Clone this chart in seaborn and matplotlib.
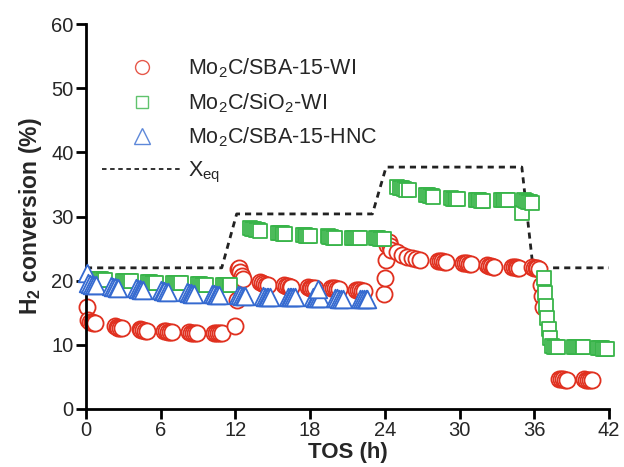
import matplotlib
matplotlib.use("Agg")
import matplotlib.pyplot as plt
from matplotlib.lines import Line2D
import seaborn as sns
import pandas as pd

# ---------------- data ----------------
# Mo2C/SBA-15-WI (red circles)
tos_wi = [0.05,
          0.15, 0.30, 0.45, 0.60, 0.75,
          2.30, 2.45, 2.60, 2.75, 2.90,
          4.30, 4.45, 4.60, 4.75, 4.90,
          6.30, 6.45, 6.60, 6.75, 6.90,
          8.30, 8.45, 8.60, 8.75, 8.90,
          10.30, 10.45, 10.60, 10.75, 10.90,
          12.00,
          12.10, 12.20, 12.30, 12.40, 12.50, 12.60,
          14.00, 14.15, 14.30, 14.45, 14.60,
          15.90, 16.05, 16.20, 16.35, 16.50,
          17.80, 17.95, 18.10, 18.25, 18.40,
          19.70, 19.85, 20.00, 20.15, 20.30,
          21.70, 21.85, 22.00, 22.15, 22.30,
          23.90, 24.00, 24.10,
          24.20, 24.30, 24.40, 24.50,
          25.00, 25.40, 25.80, 26.20, 26.50, 26.80,
          28.30, 28.45, 28.60, 28.75, 28.90,
          30.30, 30.45, 30.60, 30.75, 30.90,
          32.20, 32.35, 32.50, 32.65, 32.80,
          34.20, 34.35, 34.50, 34.65, 34.80,
          35.80, 35.95, 36.10, 36.25, 36.40,
          36.50, 36.60, 36.70,
          38.00, 38.15, 38.30, 38.45, 38.60,
          40.00, 40.15, 40.30, 40.45, 40.60]
conv_wi = [15.9,
           13.8, 13.6, 13.5, 13.4, 13.4,
           12.9, 12.8, 12.7, 12.7, 12.6,
           12.4, 12.3, 12.3, 12.2, 12.2,
           12.1, 12.1, 12.0, 12.0, 12.0,
           12.0, 11.9, 11.9, 11.9, 11.9,
           11.9, 11.8, 11.8, 11.8, 11.8,
           13.0,
           17.0, 21.8, 22.0, 21.4, 20.8, 20.3,
           19.8, 19.6, 19.5, 19.4, 19.3,
           19.3, 19.2, 19.1, 19.0, 19.0,
           19.0, 18.9, 18.9, 18.8, 18.8,
           18.9, 18.8, 18.8, 18.7, 18.7,
           18.6, 18.5, 18.5, 18.4, 18.4,
           18.0, 20.4, 23.2,
           25.5, 26.0, 25.4, 24.8,
           24.4, 24.0, 23.7, 23.5, 23.3, 23.2,
           23.1, 23.0, 23.0, 22.9, 22.9,
           22.8, 22.7, 22.7, 22.6, 22.6,
           22.4, 22.3, 22.3, 22.2, 22.2,
           22.2, 22.1, 22.1, 22.0, 22.0,
           22.1, 22.0, 22.0, 21.9, 21.8,
           19.3, 17.6, 15.9,
           4.7, 4.6, 4.6, 4.5, 4.5,
           4.6, 4.5, 4.5, 4.5, 4.5]

# Mo2C/SiO2-WI (green squares)
tos_si = [0.90, 1.05, 1.20, 1.35, 1.50,
          3.00, 3.15, 3.30, 3.45, 3.60,
          5.00, 5.15, 5.30, 5.45, 5.60,
          7.00, 7.15, 7.30, 7.45, 7.60,
          9.00, 9.15, 9.30, 9.45, 9.60,
          11.00, 11.15, 11.30, 11.45, 11.60,
          13.20, 13.35, 13.50, 13.65, 13.80, 14.00,
          15.40, 15.55, 15.70, 15.85, 16.00,
          17.40, 17.55, 17.70, 17.85, 18.00,
          19.40, 19.55, 19.70, 19.85, 20.00,
          21.40, 21.55, 21.70, 21.85, 22.00,
          23.30, 23.45, 23.60, 23.75, 23.90,
          25.00, 25.20, 25.40, 25.55, 25.70, 25.90,
          27.30, 27.45, 27.60, 27.75, 27.90,
          29.30, 29.45, 29.60, 29.75, 29.90,
          31.30, 31.45, 31.60, 31.75, 31.90,
          33.30, 33.45, 33.60, 33.75, 33.90,
          35.00,
          35.20, 35.35, 35.50, 35.65, 35.80,
          36.80, 36.90, 36.95, 37.05, 37.15, 37.25, 37.45,
          37.60, 37.75, 37.90,
          39.20, 39.35, 39.50, 39.65, 39.80, 39.90,
          41.10, 41.25, 41.40, 41.55, 41.70, 41.80]
conv_si = [20.3, 20.2, 20.2, 20.1, 20.1,
           20.0, 20.0, 19.9, 19.9, 19.9,
           19.8, 19.8, 19.7, 19.7, 19.7,
           19.7, 19.6, 19.6, 19.6, 19.6,
           19.5, 19.5, 19.4, 19.4, 19.4,
           19.4, 19.4, 19.3, 19.3, 19.3,
           28.2, 28.1, 28.0, 27.9, 27.9, 27.8,
           27.5, 27.4, 27.4, 27.3, 27.3,
           27.1, 27.1, 27.0, 27.0, 27.0,
           26.9, 26.8, 26.8, 26.7, 26.7,
           26.7, 26.7, 26.6, 26.6, 26.6,
           26.6, 26.6, 26.5, 26.5, 26.5,
           34.6, 34.5, 34.4, 34.3, 34.2, 34.1,
           33.4, 33.3, 33.2, 33.2, 33.1,
           32.9, 32.8, 32.8, 32.7, 32.7,
           32.6, 32.5, 32.5, 32.4, 32.4,
           32.6, 32.6, 32.5, 32.5, 32.5,
           30.5,
           32.5, 32.4, 32.3, 32.2, 32.1,
           20.4, 18.1, 16.0, 14.2, 12.4, 11.1, 9.8,
           9.7, 9.6, 9.6,
           9.7, 9.7, 9.6, 9.6, 9.6, 9.6,
           9.5, 9.5, 9.5, 9.4, 9.4, 9.4]

# Mo2C/SBA-15-HNC (blue triangles)
tos_hnc = [0.10,
           0.20, 0.35, 0.50, 0.65, 0.80,
           2.00, 2.15, 2.30, 2.45, 2.60,
           4.00, 4.15, 4.30, 4.45, 4.60,
           6.00, 6.15, 6.30, 6.45, 6.60,
           8.10, 8.25, 8.40, 8.55, 8.70,
           10.10, 10.25, 10.40, 10.55, 10.70,
           12.20, 12.35, 12.50, 12.65, 12.80,
           14.20, 14.35, 14.50, 14.65, 14.80,
           16.20, 16.35, 16.50, 16.65, 16.80,
           18.20, 18.35, 18.50, 18.65, 18.80,
           18.60,
           20.00, 20.15, 20.30, 20.45, 20.60,
           22.00, 22.15, 22.30, 22.45, 22.60]
conv_hnc = [21.2,
            19.6, 19.5, 19.4, 19.3, 19.3,
            19.1, 19.0, 19.0, 18.9, 18.9,
            18.8, 18.7, 18.7, 18.6, 18.6,
            18.5, 18.4, 18.4, 18.3, 18.3,
            18.2, 18.1, 18.1, 18.0, 18.0,
            17.9, 17.9, 17.8, 17.8, 17.8,
            17.7, 17.7, 17.6, 17.6, 17.6,
            17.6, 17.5, 17.5, 17.5, 17.5,
            17.5, 17.4, 17.4, 17.4, 17.4,
            17.4, 17.3, 17.3, 17.3, 17.3,
            18.7,
            17.3, 17.3, 17.2, 17.2, 17.2,
            17.2, 17.2, 17.1, 17.1, 17.1]

# equilibrium conversion
tos_eq = [0.0, 10.9, 12.1, 23.0, 24.1, 35.0, 35.9, 42.0]
conv_eq = [22.0, 22.0, 30.4, 30.4, 37.7, 37.7, 22.0, 22.0]

labels = ["Mo$_2$C/SBA-15-WI", "Mo$_2$C/SiO$_2$-WI", "Mo$_2$C/SBA-15-HNC",
          r"X$_{\mathregular{eq}}$"]
x_ticks = [0, 6, 12, 18, 24, 30, 36, 42]
y_ticks = [0, 10, 20, 30, 40, 50, 60]

RED = "#E0301F"
GREEN = "#38B449"
BLUE = "#356AD0"

# ---------------- style ----------------
sns.set_style("ticks")
plt.rcParams["font.family"] = ["Liberation Sans", "DejaVu Sans"]
plt.rcParams["mathtext.fontset"] = "custom"
plt.rcParams["mathtext.rm"] = "Liberation Sans"
plt.rcParams["mathtext.it"] = "Liberation Sans:italic"
plt.rcParams["mathtext.bf"] = "Liberation Sans:bold"

fig = plt.figure(figsize=(6.24, 4.67), dpi=100)
ax = fig.add_axes([86 / 624, 1 - 409 / 467, (609 - 86) / 624, (409 - 24) / 467])

df_wi = pd.DataFrame({"tos": tos_wi, "conv": conv_wi})
df_si = pd.DataFrame({"tos": tos_si, "conv": conv_si})
df_hnc = pd.DataFrame({"tos": tos_hnc, "conv": conv_hnc})
df_eq = pd.DataFrame({"tos": tos_eq, "conv": conv_eq})

sns.lineplot(data=df_eq, x="tos", y="conv", ax=ax, color="#222222",
             linewidth=2.0, dashes=False, linestyle=(0, (2.2, 1.8)),
             sort=False, estimator=None, zorder=1)

sns.scatterplot(data=df_wi, x="tos", y="conv", ax=ax, marker="o", s=135,
                color="white", edgecolor=RED, linewidth=1.3, clip_on=False,
                zorder=2)
sns.scatterplot(data=df_si, x="tos", y="conv", ax=ax, marker="s", s=100,
                color="white", edgecolor=GREEN, linewidth=1.3, clip_on=False,
                zorder=3)
sns.scatterplot(data=df_hnc, x="tos", y="conv", ax=ax, marker="^", s=160,
                color="white", edgecolor=BLUE, linewidth=1.3, clip_on=False,
                zorder=4)

ax.set_xlim(0, 42)
ax.set_ylim(0, 60)
ax.set_xticks(x_ticks)
ax.set_yticks(y_ticks)
ax.tick_params(axis="both", which="major", direction="out", length=7,
               width=2, labelsize=14.5, pad=2, color="black")
sns.despine(ax=ax)
for sp in ["left", "bottom"]:
    ax.spines[sp].set_linewidth(2)
    ax.spines[sp].set_color("black")

ax.set_xlabel("TOS (h)", fontsize=16, fontweight="bold", labelpad=1)
ax.set_ylabel(r"H$_\mathbf{2}$ conversion (%)", fontsize=16.5,
              fontweight="bold", labelpad=5)

handles = [
    Line2D([], [], marker="o", linestyle="none", markersize=10,
           markerfacecolor="white", markeredgecolor=RED, markeredgewidth=1.0,
           alpha=0.8),
    Line2D([], [], marker="s", linestyle="none", markersize=8,
           markerfacecolor="white", markeredgecolor=GREEN, markeredgewidth=1.0,
           alpha=0.8),
    Line2D([], [], marker="^", linestyle="none", markersize=11,
           markerfacecolor="white", markeredgecolor=BLUE, markeredgewidth=1.0,
           alpha=0.8),
    Line2D([], [], color="#222222", linewidth=1.3, linestyle=(0, (2.5, 2))),
]
ax.legend(handles, labels, loc="upper left", bbox_to_anchor=(0.03, 0.915),
          frameon=False, fontsize=15.5, handlelength=3.7, handletextpad=0.3,
          labelspacing=0.5, borderpad=0, borderaxespad=0)

fig.savefig("out.png", dpi=100)
